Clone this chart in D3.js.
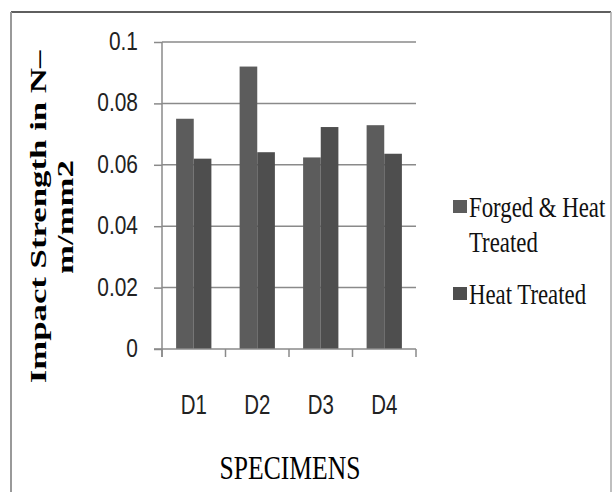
<!DOCTYPE html>
<html lang="en">
<head>
    <meta charset="UTF-8">
    <title>Impact Strength</title>
    <script src="https://cdn.jsdelivr.net/npm/d3@7"></script>
    <style>
        html,
        body {
            margin: 0;
            background: #fff;
        }
        svg { display: block; }
    </style>
</head>
<body>
<svg id="container"></svg>
<script>
    const categories = ['D1', 'D2', 'D3', 'D4'];
    const seriesNames = ['Forged & Heat Treated', 'Heat Treated'];
    const forgedHeat = [0.075, 0.092, 0.0624, 0.0729];
    const heatOnly = [0.062, 0.0641, 0.0723, 0.0636];
    const yTicks = [0, 0.02, 0.04, 0.06, 0.08, 0.1];
    const colors = ['#5c5c5c', '#4e4e4e'];

    const width = 612, height = 492;
    const svg = d3.select('#container')
        .attr('width', width)
        .attr('height', height);

    const serif = '"Liberation Serif", "Times New Roman", Times, serif';
    const sans = '"Liberation Sans", Arial, sans-serif';

    // outer frame
    svg.append('line').attr('x1', 11).attr('x2', 611).attr('y1', 12).attr('y2', 12)
        .attr('stroke', '#2a2a2a').attr('stroke-width', 1.5);
    svg.append('line').attr('x1', 11).attr('x2', 11).attr('y1', 12).attr('y2', height)
        .attr('stroke', '#999').attr('stroke-width', 2);
    svg.append('line').attr('x1', 611).attr('x2', 611).attr('y1', 12).attr('y2', height)
        .attr('stroke', '#aaa').attr('stroke-width', 1.5);

    const plot = {left: 162, right: 416, top: 42, bottom: 349};

    const y = d3.scaleLinear().domain([0, 0.1]).range([plot.bottom, plot.top]);
    const x0 = d3.scaleBand().domain(categories).range([plot.left, plot.right]);
    const x1 = d3.scaleBand().domain(seriesNames).range([0, x0.bandwidth()])
        .paddingInner(0).paddingOuter(0.8);

    // grid lines
    svg.append('g').selectAll('line')
        .data(yTicks.filter(d => d > 0))
        .join('line')
        .attr('x1', plot.left).attr('x2', plot.right)
        .attr('y1', d => y(d)).attr('y2', d => y(d))
        .attr('stroke', '#8a8a8a').attr('stroke-width', 1.5);

    // y axis
    const yAxis = d3.axisLeft(y)
        .tickValues(yTicks)
        .tickSize(8)
        .tickPadding(16)
        .tickFormat(d => String(+d.toFixed(2)));
    const yg = svg.append('g')
        .attr('transform', `translate(${plot.left},0)`)
        .call(yAxis);
    yg.select('.domain').remove();
    yg.selectAll('.tick line').attr('stroke', '#8a8a8a').attr('stroke-width', 1.5);
    yg.selectAll('.tick text')
        .attr('x', null).attr('dy', null)
        .attr('transform', 'translate(-24,7.5) scale(0.95,1.17)')
        .attr('fill', '#222')
        .style('font-family', sans)
        .style('font-size', '22px')
        .attr('text-anchor', 'end');

    // vertical axis line (runs down into the first category tick)
    svg.append('line')
        .attr('x1', plot.left).attr('x2', plot.left)
        .attr('y1', plot.top).attr('y2', plot.bottom + 8)
        .attr('stroke', '#8a8a8a').attr('stroke-width', 1.5);

    // bars
    const data = categories.map((c, i) => ({cat: c, values: [forgedHeat[i], heatOnly[i]]}));
    svg.append('g').selectAll('g')
        .data(data)
        .join('g')
        .attr('transform', d => `translate(${x0(d.cat)},0)`)
        .selectAll('rect')
        .data(d => d.values.map((v, i) => ({name: seriesNames[i], value: v, i})))
        .join('rect')
        .attr('x', d => x1(d.name))
        .attr('width', x1.bandwidth())
        .attr('y', d => y(d.value))
        .attr('height', d => y(0) - y(d.value))
        .attr('fill', d => colors[d.i]);

    // x axis line and ticks at band edges
    svg.append('line')
        .attr('x1', plot.left - 8).attr('x2', plot.right)
        .attr('y1', plot.bottom).attr('y2', plot.bottom)
        .attr('stroke', '#8a8a8a').attr('stroke-width', 1.5);
    const edges = categories.map(c => x0(c)).concat([x0.range()[1]]);
    svg.append('g').selectAll('line')
        .data(edges)
        .join('line')
        .attr('x1', d => d).attr('x2', d => d)
        .attr('y1', plot.bottom).attr('y2', plot.bottom + 8)
        .attr('stroke', '#8a8a8a').attr('stroke-width', 1.5);

    svg.append('g').selectAll('text')
        .data(categories)
        .join('text')
        .attr('transform', d => `translate(${x0(d) + x0.bandwidth() / 2},414) scale(0.93,1.25)`)
        .attr('text-anchor', 'middle')
        .attr('fill', '#222')
        .style('font-family', sans)
        .style('font-size', '22px')
        .text(d => d);

    // axis titles
    svg.append('text')
        .attr('transform', 'translate(290,479) scale(1,1.3)')
        .attr('text-anchor', 'middle')
        .style('font-family', serif)
        .style('font-size', '25.6px')
        .text('SPECIMENS');

    const yTitle = ['Impact Strength in N\u2013', 'm/mm2'];
    svg.append('g').selectAll('text')
        .data(yTitle)
        .join('text')
        .attr('transform', (d, i) => `translate(${46 + i * 27},217) rotate(-90) scale(1.45,1)`)
        .attr('text-anchor', 'middle')
        .style('font-family', serif)
        .style('font-weight', 'bold')
        .style('font-size', '24px')
        .text(d => d);

    // legend
    const legendRows = [
        {lines: ['Forged & Heat', 'Treated'], y: 200},
        {lines: ['Heat Treated'], y: 287}
    ];
    const lg = svg.append('g');
    legendRows.forEach((row, i) => {
        lg.append('rect')
            .attr('x', 453).attr('y', row.y)
            .attr('width', 14).attr('height', 13)
            .attr('fill', colors[i]);
        row.lines.forEach((t, j) => {
            lg.append('text')
                .attr('transform', `translate(469,${row.y + 17 + j * 35}) scale(1,1.27)`)
                .style('font-family', serif)
                .style('font-size', '22.8px')
                .attr('fill', '#111')
                .text(t);
        });
    });
</script>
</body>
</html>
